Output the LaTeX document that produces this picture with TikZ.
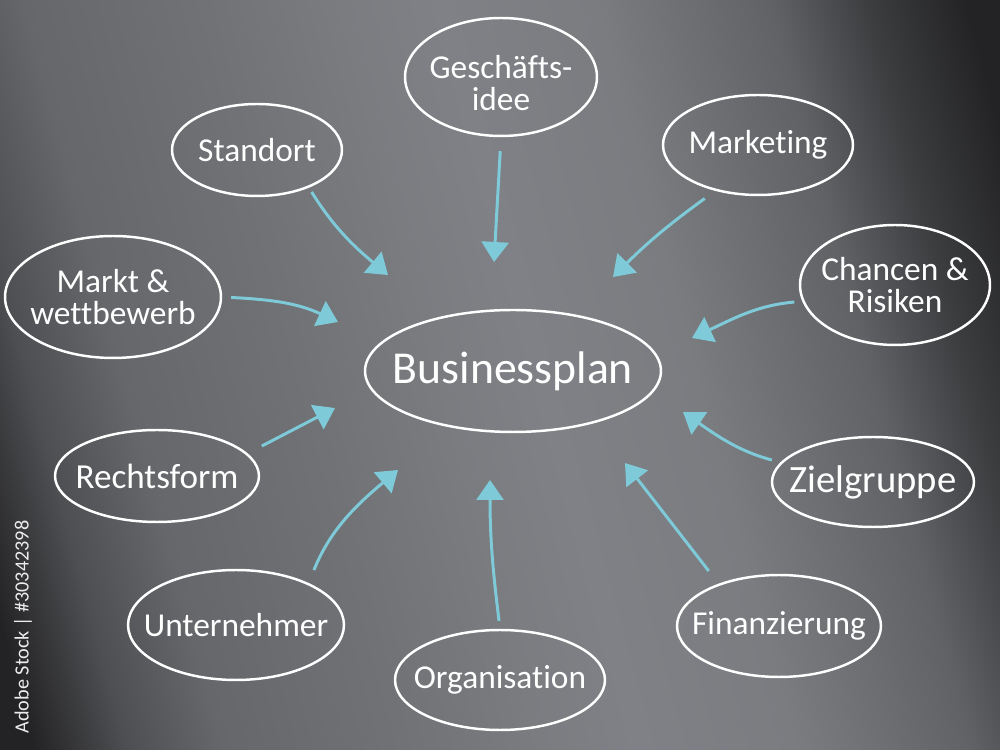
\documentclass[tikz,border=0pt]{standalone}
\usepackage{fontspec}
\setmainfont{Carlito}[Ligatures=NoCommon]
\usetikzlibrary{shapes.geometric,arrows.meta}
\definecolor{board35}{RGB}{35,35,37}
\definecolor{board60}{RGB}{60,61,63}
\definecolor{board78}{RGB}{78,79,82}
\definecolor{board97}{RGB}{97,98,102}
\definecolor{board102}{RGB}{102,103,107}
\definecolor{board112}{RGB}{112,114,118}
\definecolor{board122}{RGB}{122,124,128}
\definecolor{board127}{RGB}{127,129,134}
\definecolor{chalkblue}{RGB}{126,202,216}
\pgfdeclarehorizontalshading{board}{100bp}{color(0bp)=(board35); color(21bp)=(board35); color(25.8bp)=(board78); color(30.7bp)=(board102); color(40bp)=(board112); color(47bp)=(board122); color(52bp)=(board127); color(60bp)=(board122); color(69bp)=(board97); color(74bp)=(board60); color(79bp)=(board35); color(100bp)=(board35)}
\begin{document}
\begin{tikzpicture}[x=0.02cm,y=0.02cm,
  bubble/.style={draw=white, line width=1.4pt, ellipse, inner sep=0pt},
  chalk/.style={text=white, align=center, font=\fontsize{19}{18}\selectfont},
  feed/.style={draw=chalkblue, line width=1.7pt, -{Triangle[length=0.4cm,width=0.54cm]}}]
\shade[shading=board, shading angle=15] (0,0) rectangle (1000,750);
\useasboundingbox (0,0) rectangle (1000,750);
\node[bubble, minimum width=5.92cm, minimum height=2.44cm, label={[chalk, font=\fontsize{26}{26}\selectfont]center:Businessplan}] (bp) at (513,379) {};
\node[bubble, minimum width=3.84cm, minimum height=2.36cm, label={[chalk, yshift=-0.12cm]center:{Geschäfts-\\idee}}] (idee) at (501,673) {};
\node[bubble, minimum width=3.4cm, minimum height=1.84cm, label={[chalk]center:Standort}] (standort) at (257,600) {};
\node[bubble, minimum width=3.8cm, minimum height=2cm, label={[chalk]center:Marketing}] (marketing) at (758,605) {};
\node[bubble, minimum width=4.32cm, minimum height=2.44cm, label={[chalk]center:{Markt \&\\wettbewerb}}] (markt) at (113,453) {};
\node[bubble, minimum width=3.8cm, minimum height=2.4cm, label={[chalk]center:{Chancen \&\\Risiken}}] (chancen) at (895,465) {};
\node[bubble, minimum width=4.08cm, minimum height=1.84cm, label={[chalk, font=\fontsize{20}{20}\selectfont]center:Rechtsform}] (rechtsform) at (157,274) {};
\node[bubble, minimum width=4.04cm, minimum height=1.8cm, label={[chalk, font=\fontsize{22}{22}\selectfont]center:Zielgruppe}] (ziel) at (873,268) {};
\node[bubble, minimum width=4.32cm, minimum height=2.2cm, label={[chalk]center:Unternehmer}] (unternehmer) at (236,125) {};
\node[bubble, minimum width=4.08cm, minimum height=2.04cm, label={[chalk]center:Finanzierung}] (finanz) at (779,124) {};
\node[bubble, minimum width=4.2cm, minimum height=2cm, label={[chalk]center:Organisation}] (organisation) at (500,70) {};
\node[rotate=90, text=white!85!gray, font=\fontsize{11.5}{11.5}\selectfont] (stock) at (23,123) {Adobe Stock | \#30342398};
\coordinate (t1) at (388,475);
\coordinate (t2) at (494,488);
\coordinate (t3) at (613,473);
\coordinate (t4) at (338,428);
\coordinate (t5) at (692,412);
\coordinate (t6) at (335,342);
\coordinate (t7) at (398,280);
\coordinate (t8) at (490,270);
\coordinate (t9) at (625,287);
\coordinate (t10) at (683,338);
\draw[feed, shorten <=0.1cm] (standort.-36) to[out=-58,in=140] (t1);
\draw[feed, shorten <=0.28cm] (idee.south) -- (t2);
\draw[feed, shorten <=0.26cm] (marketing.-133) to[out=216,in=45] (t3);
\draw[feed, shorten <=0.18cm] (markt.east) to[out=-3,in=155] (t4);
\draw[feed, shorten <=0.16cm] (chancen.190) to[out=185,in=25] (t5);
\draw[feed, shorten <=0.32cm] (rechtsform.14) -- (t6);
\draw[feed, shorten <=0.28cm] (unternehmer.30) to[out=68,in=220] (t7);
\draw[feed, shorten <=0.16cm] (organisation.north) to[out=97,in=-90] (t8);
\draw[feed, shorten <=0.32cm] (finanz.145) -- (t9);
\draw[feed, shorten <=0.18cm] (ziel.168) to[out=165,in=-35] (t10);
\end{tikzpicture}
\end{document}
